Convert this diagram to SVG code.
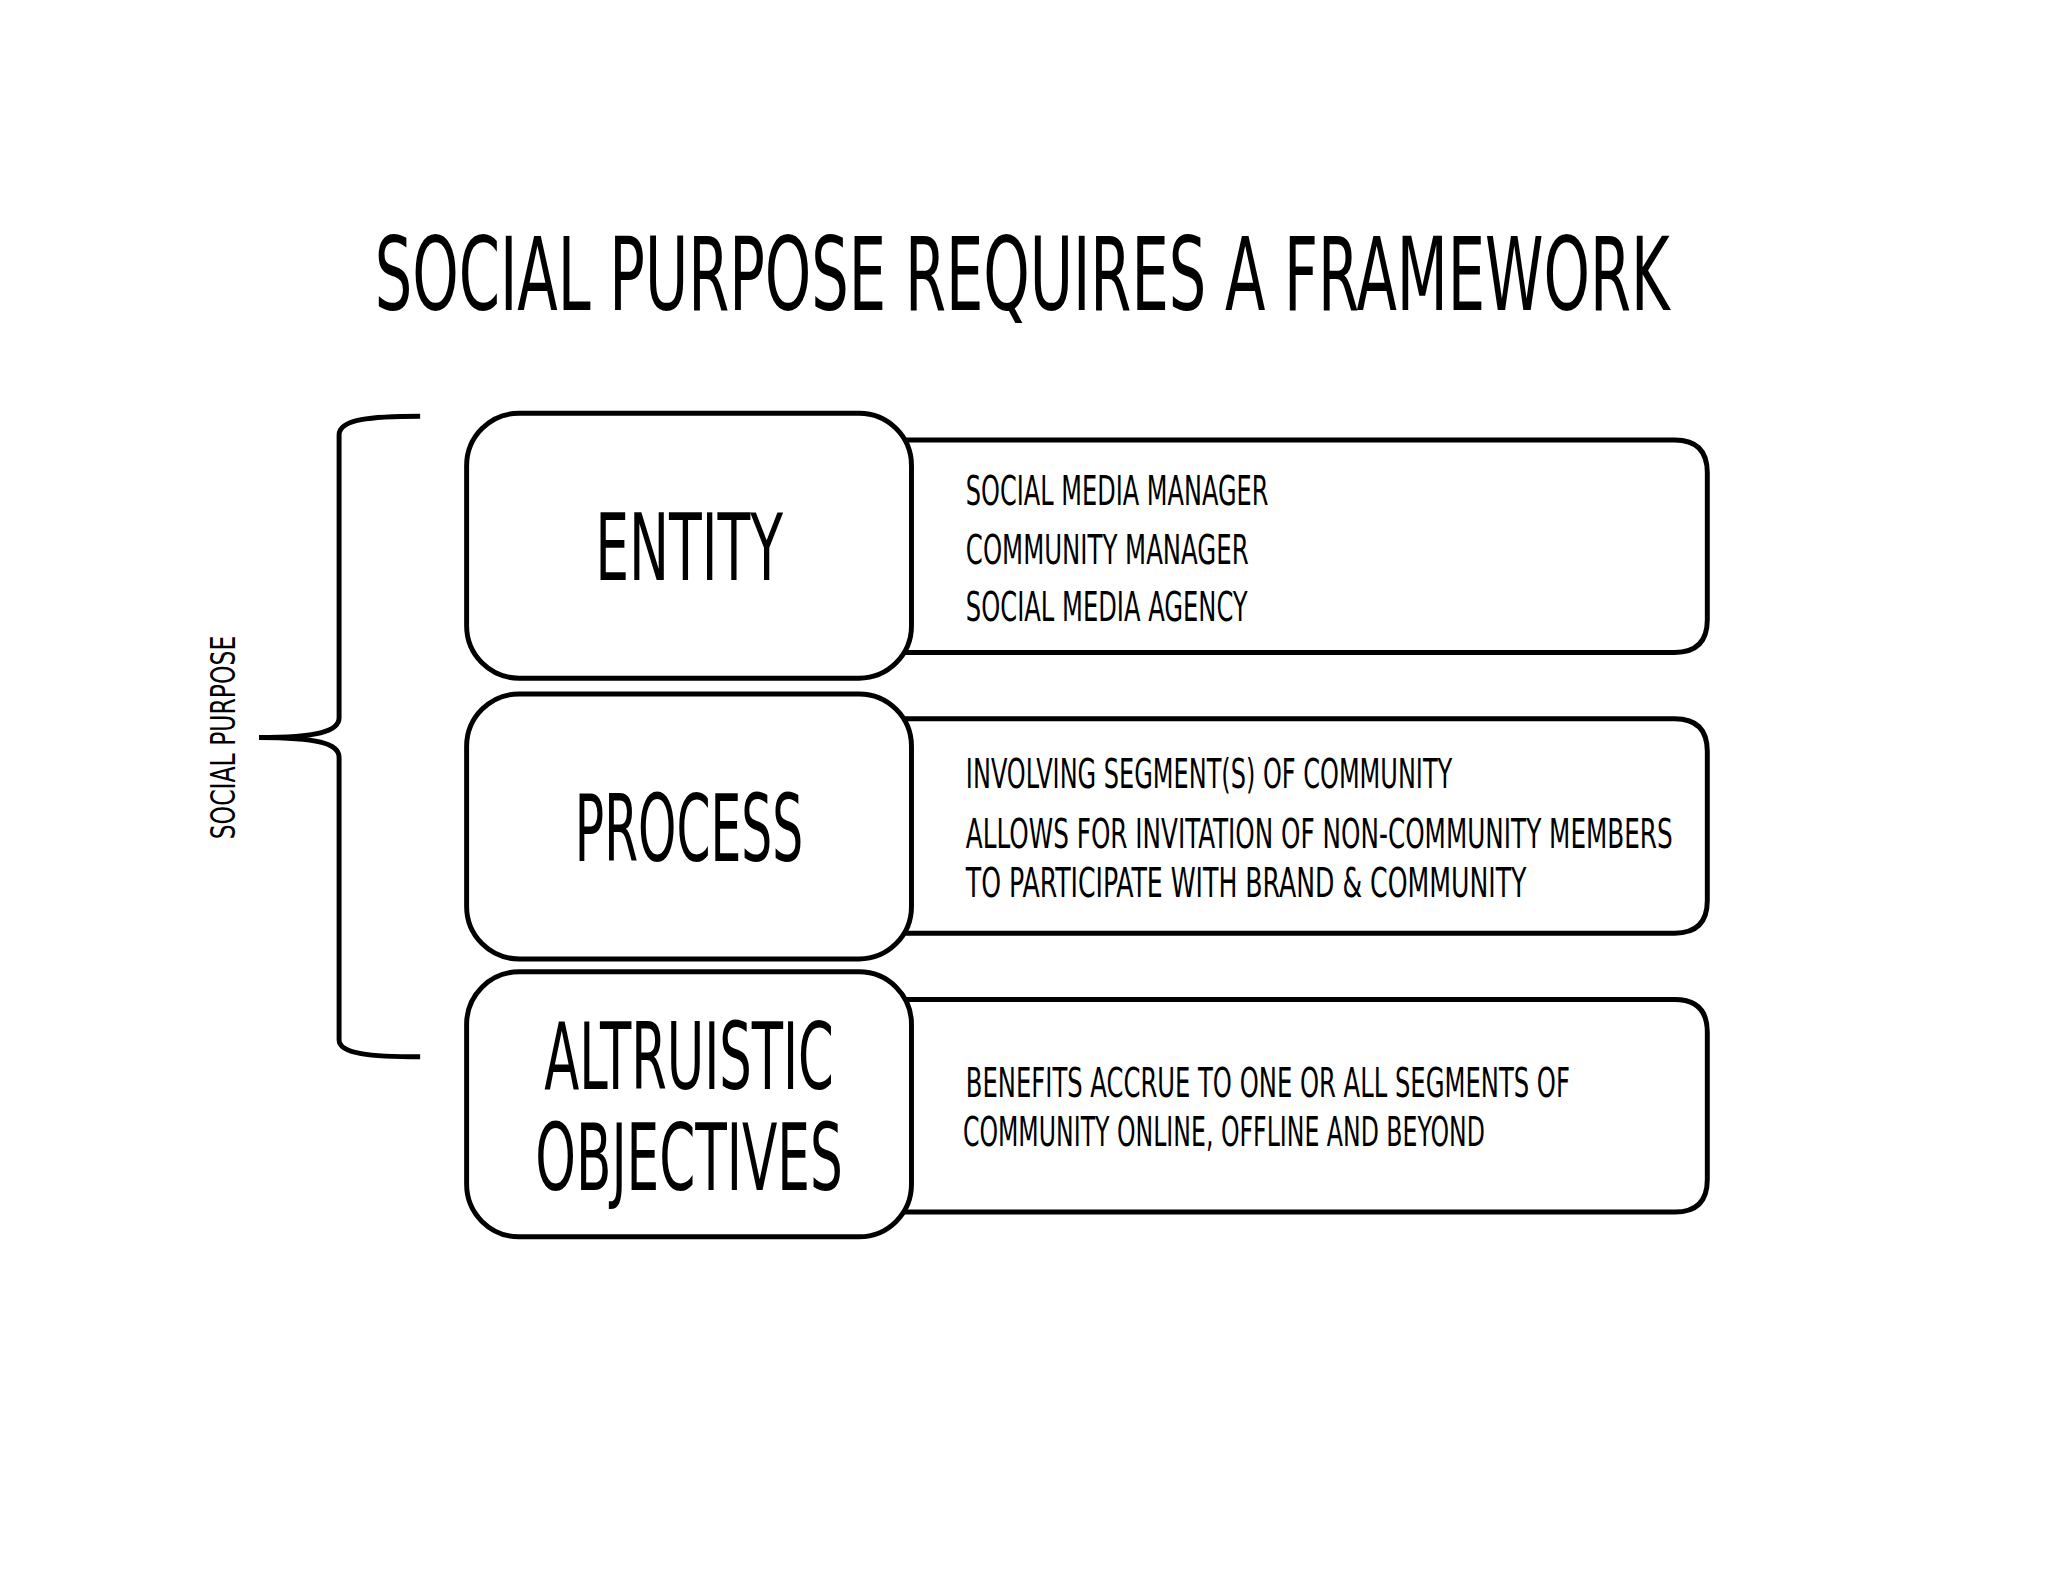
<svg xmlns="http://www.w3.org/2000/svg" width="2048" height="1582" viewBox="0 0 2048 1582">
<style>
text{font-family:"DejaVu Sans Condensed","Liberation Sans",sans-serif;fill:#000}
.t{font-size:102px}
.h{font-size:94px;text-anchor:middle}
.s{font-size:42px}
.box{fill:#fff;stroke:#000;stroke-width:5}
</style>
<rect width="2048" height="1582" fill="#fff"/>
<g transform="scale(0.9886)">
<text class="t" x="379" y="314" textLength="1310" lengthAdjust="spacingAndGlyphs">SOCIAL PURPOSE REQUIRES A FRAMEWORK</text>
<g id="connectors">
<path d="M425,421 C375,421 343,424 343,440 L343,726 C343,740 320,746 262,746 C320,746 343,752 343,766 L343,1052 C343,1066 375,1069 425,1069" fill="none" stroke="#000" stroke-width="5"/>
</g>
<text transform="translate(238,746) rotate(-90)" text-anchor="middle" textLength="206" lengthAdjust="spacingAndGlyphs" style="font-size:34px">SOCIAL PURPOSE</text>
<g id="entity">
<path class="box" d="M900,445 H1694 Q1727,445 1727,478 V627 Q1727,660 1694,660 H900 Z"/>
<rect class="box" x="472" y="418" width="450" height="268" rx="53"/>
<text class="h" x="697" y="587" textLength="190" lengthAdjust="spacingAndGlyphs">ENTITY</text>
<text class="s" x="977" y="511" textLength="306" lengthAdjust="spacingAndGlyphs">SOCIAL MEDIA MANAGER</text>
<text class="s" x="977" y="570" textLength="286" lengthAdjust="spacingAndGlyphs">COMMUNITY MANAGER</text>
<text class="s" x="977" y="628" textLength="285" lengthAdjust="spacingAndGlyphs">SOCIAL MEDIA AGENCY</text>
</g>
<g id="process">
<path class="box" d="M900,727 H1694 Q1727,727 1727,760 V911 Q1727,944 1694,944 H900 Z"/>
<rect class="box" x="472" y="702" width="450" height="268" rx="53"/>
<text class="h" x="697" y="871" textLength="231" lengthAdjust="spacingAndGlyphs">PROCESS</text>
<text class="s" x="977" y="797" textLength="492" lengthAdjust="spacingAndGlyphs">INVOLVING SEGMENT(S) OF COMMUNITY</text>
<text class="s" x="977" y="858" textLength="715" lengthAdjust="spacingAndGlyphs">ALLOWS FOR INVITATION OF NON-COMMUNITY MEMBERS</text>
<text class="s" x="977" y="907" textLength="567" lengthAdjust="spacingAndGlyphs">TO PARTICIPATE WITH BRAND &amp; COMMUNITY</text>
</g>
<g id="objectives">
<path class="box" d="M900,1011 H1694 Q1727,1011 1727,1044 V1193 Q1727,1226 1694,1226 H900 Z"/>
<rect class="box" x="472" y="983" width="450" height="268" rx="53"/>
<text class="h" x="697" y="1102" textLength="293" lengthAdjust="spacingAndGlyphs">ALTRUISTIC</text>
<text class="h" x="697" y="1204" textLength="311" lengthAdjust="spacingAndGlyphs">OBJECTIVES</text>
<text class="s" x="977" y="1110" textLength="611" lengthAdjust="spacingAndGlyphs">BENEFITS ACCRUE TO ONE OR ALL SEGMENTS OF</text>
<text class="s" x="974" y="1159" textLength="528" lengthAdjust="spacingAndGlyphs">COMMUNITY ONLINE, OFFLINE AND BEYOND</text>
</g>
</g>
</svg>
